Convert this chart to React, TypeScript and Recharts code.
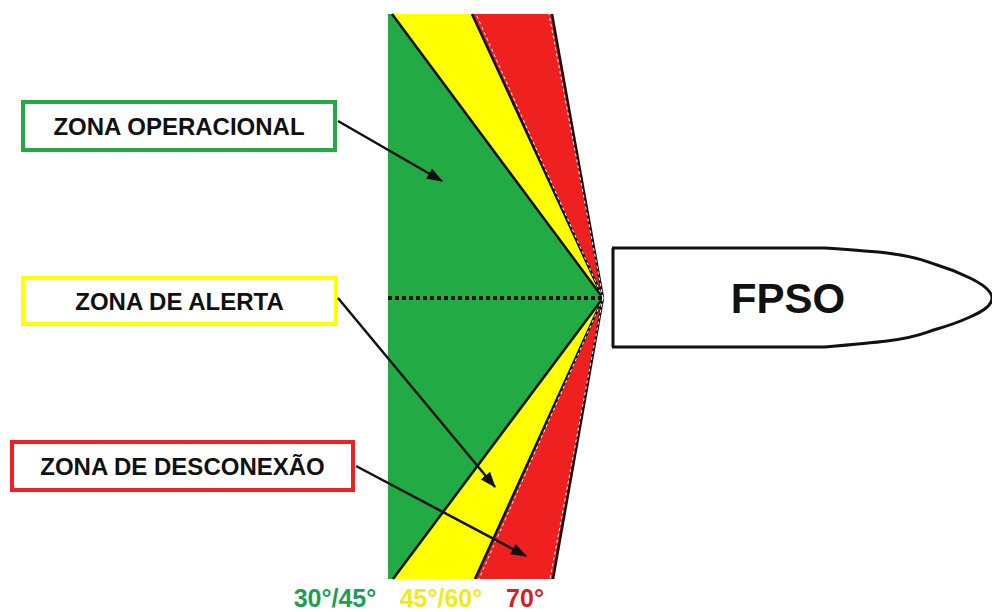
import { ComposedChart, Area, Line, XAxis, YAxis, ReferenceArea, ReferenceLine, ReferenceDot, Label } from "recharts"

// fan is read along three horizontal cuts: top edge, apex level, bottom edge
const fanCuts = [14, 298, 579]
const greenSpan = [[388, 392], [388, 603], [388, 393]]
const yellowSpan = [[392, 472], [603, 603], [393, 475]]
const redSpan = [[472, 552], [603, 603], [475, 553]]

const fanData = fanCuts.map((y, i) => ({ y, green: greenSpan[i], yellow: yellowSpan[i], red: redSpan[i] }))

// apex of the fan (where the hawser meets the FPSO stern)
const apex = { x: 603, y: 298 }

// bow outline of the FPSO hull
const bowY = [248, 253, 265, 278, 288, 298, 308, 317, 329, 341, 347]
const bowX = [825, 887, 937, 970, 986, 992, 986, 970, 937, 887, 825]
const bowData = bowY.map((y, i) => ({ y, x: bowX[i] }))

const zoneLabels = ["ZONA OPERACIONAL", "ZONA DE ALERTA", "ZONA DE DESCONEXÃO"]
const zoneColors = ["#22aa45", "#ffff00", "#ee2020"]
const angleLabels = ["30°/45°", "45°/60°", "70°"]
const angleColors = ["#1f9d55", "#f2ea1a", "#d81e1e"]

// layout of the boxes / arrows / labels
const boxes = [
  { x1: 23, x2: 335, y1: 102, y2: 150 },
  { x1: 23, x2: 336, y1: 278, y2: 324 },
  { x1: 12, x2: 353, y1: 442, y2: 490 },
]
const arrows = [
  [{ x: 338, y: 121 }, { x: 442, y: 181 }],
  [{ x: 338, y: 298 }, { x: 495, y: 487 }],
  [{ x: 356, y: 466 }, { x: 526, y: 556 }],
]
const angleX = [335, 441, 525]

const font = "'Liberation Sans', Arial, sans-serif"

const arrowShape = (p: any) => (
  <line x1={p.x1} y1={p.y1} x2={p.x2} y2={p.y2} stroke="#111" strokeWidth={2.5} markerEnd="url(#arrowHead)" />
)

export default function App() {
  const rayEnds = [
    { x: greenSpan[0][1], y: fanCuts[0] },
    { x: yellowSpan[0][1], y: fanCuts[0] },
    { x: redSpan[0][1], y: fanCuts[0] },
    { x: greenSpan[2][1], y: fanCuts[2] },
    { x: yellowSpan[2][1], y: fanCuts[2] },
    { x: redSpan[2][1], y: fanCuts[2] },
  ]

  return (
    <div style={{ position: "absolute", left: 0, top: 0, width: 992, height: 612, background: "#fff" }}>
      <svg width={0} height={0} style={{ position: "absolute" }}>
        <defs>
          <marker id="arrowHead" viewBox="0 0 16 12" refX="15" refY="6" markerWidth="16" markerHeight="12" markerUnits="userSpaceOnUse" orient="auto">
            <path d="M0,0 L16,6 L0,12 z" fill="#111" />
          </marker>
        </defs>
      </svg>
      <ComposedChart width={992} height={612} layout="vertical" data={fanData} margin={{ top: 0, right: 0, bottom: 0, left: 0 }}>
        <XAxis type="number" domain={[0, 992]} hide allowDataOverflow />
        <YAxis type="number" dataKey="y" domain={[0, 612]} hide allowDataOverflow />

        <Area dataKey="green" type="linear" fill="#22aa45" fillOpacity={1} stroke="none" dot={false} activeDot={false} isAnimationActive={false} />
        <Area dataKey="yellow" type="linear" fill="#ffff00" fillOpacity={1} stroke="none" dot={false} activeDot={false} isAnimationActive={false} />
        <Area dataKey="red" type="linear" fill="#ee2020" fillOpacity={1} stroke="none" dot={false} activeDot={false} isAnimationActive={false} />

        {rayEnds.map((e, i) => (
          <ReferenceLine key={"ray" + i} segment={[apex, e]} stroke="#111" strokeWidth={2.5} ifOverflow="visible" />
        ))}
        {/* thin white dashes inside the red wedges */}
        <ReferenceLine segment={[apex, { x: redSpan[0][0] + 4, y: fanCuts[0] }]} stroke="#fff" strokeWidth={1} strokeDasharray="3 3" ifOverflow="visible" />
        <ReferenceLine segment={[apex, { x: redSpan[0][1] - 3, y: fanCuts[0] }]} stroke="#fff" strokeWidth={1} strokeDasharray="3 3" ifOverflow="visible" />
        <ReferenceLine segment={[apex, { x: redSpan[2][0] + 4, y: fanCuts[2] }]} stroke="#fff" strokeWidth={1} strokeDasharray="3 3" ifOverflow="visible" />
        <ReferenceLine segment={[apex, { x: redSpan[2][1] - 3, y: fanCuts[2] }]} stroke="#fff" strokeWidth={1} strokeDasharray="3 3" ifOverflow="visible" />

        {/* centre line */}
        <ReferenceLine segment={[{ x: greenSpan[1][0], y: apex.y }, apex]} stroke="#111" strokeWidth={4} strokeDasharray="4 3" ifOverflow="visible" />

        {/* FPSO hull */}
        <ReferenceLine segment={[{ x: 613, y: 248 }, { x: 613, y: 347 }]} stroke="#111" strokeWidth={3} ifOverflow="visible" />
        <ReferenceLine segment={[{ x: 612, y: 248 }, { x: bowX[0], y: bowY[0] }]} stroke="#111" strokeWidth={3} ifOverflow="visible" />
        <ReferenceLine segment={[{ x: 612, y: 347 }, { x: bowX[bowX.length - 1], y: bowY[bowY.length - 1] }]} stroke="#111" strokeWidth={3} ifOverflow="visible" />
        <Line data={bowData} dataKey="x" type="monotoneY" stroke="#111" strokeWidth={3} dot={false} activeDot={false} isAnimationActive={false} />
        <ReferenceArea x1={612} x2={964} y1={250} y2={346} fill="none" stroke="none" ifOverflow="visible">
          <Label value="FPSO" position="center" fill="#111" fontSize={42} fontWeight={700} fontFamily={font} />
        </ReferenceArea>

        {/* zone boxes */}
        {boxes.map((b, i) => (
          <ReferenceArea key={"box" + i} x1={b.x1} x2={b.x2} y1={b.y1} y2={b.y2} fill="#fff" fillOpacity={1} stroke={zoneColors[i]} strokeWidth={4} ifOverflow="visible">
            <Label value={zoneLabels[i]} position="center" fill="#111" fontSize={24} fontWeight={700} fontFamily={font} />
          </ReferenceArea>
        ))}
        {arrows.map((a, i) => (
          <ReferenceLine key={"arr" + i} segment={a} ifOverflow="visible" shape={arrowShape} />
        ))}

        {/* angle labels */}
        {angleLabels.map((t, i) => (
          <ReferenceDot key={"ang" + i} x={angleX[i]} y={598} r={0} fill="none" stroke="none" ifOverflow="visible">
            <Label value={t} position="center" fill={angleColors[i]} fontSize={25} fontWeight={700} fontFamily={font} />
          </ReferenceDot>
        ))}
      </ComposedChart>
    </div>
  )
}
